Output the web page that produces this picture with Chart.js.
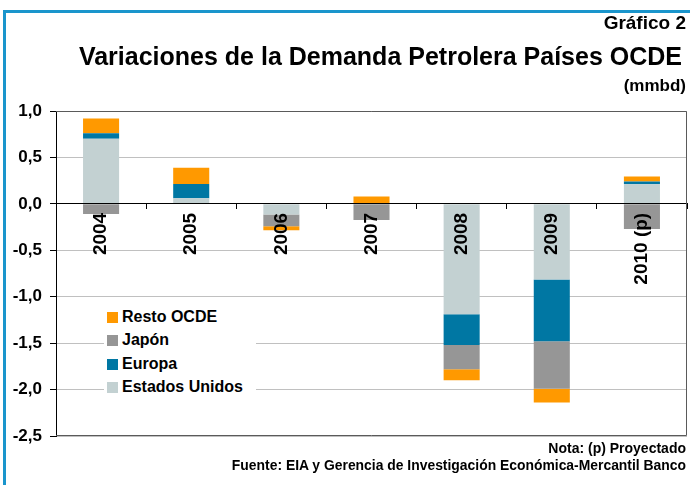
<!DOCTYPE html>
<html>
<head>
<meta charset="utf-8">
<script src="https://cdn.jsdelivr.net/npm/chart.js@4/dist/chart.umd.min.js"></script>
<style>
  html, body { margin: 0; padding: 0; background: #fff; }
  #wrap { position: relative; width: 690px; height: 485px; overflow: hidden; font-family: "Liberation Sans", Arial, sans-serif; font-weight: bold; color: #000; }
  #frameTop { position: absolute; left: 3px; top: 10px; width: 687px; height: 3px; background: #1a95cc; }
  #frameLeft { position: absolute; left: 3px; top: 10px; width: 3px; height: 475px; background: #1a95cc; }
  canvas { position: absolute; left: 0; top: 0; }
  .t { position: absolute; white-space: nowrap; }
  #legend { position: absolute; left: 104px; top: 305px; width: 152px; height: 94px; background: #fff; }
  .li { position: absolute; left: 3px; height: 20px; line-height: 20px; font-size: 16px; white-space: nowrap; }
  .sw { display: inline-block; width: 11px; height: 11px; margin-right: 4px; vertical-align: -1px; }
</style>
</head>
<body>
<div id="wrap">
  <canvas id="c" width="690" height="485"></canvas>
  <div id="frameTop"></div>
  <div id="frameLeft"></div>
  <div class="t" style="right:4px; top:12px; font-size:19px;">Gráfico 2</div>
  <div class="t" style="right:8px; top:42px; font-size:25px;">Variaciones de la Demanda Petrolera Países OCDE</div>
  <div class="t" style="right:4px; top:76px; font-size:17px;">(mmbd)</div>
  <div class="t" style="right:4px; top:440px; font-size:14px;">Nota: (p) Proyectado</div>
  <div class="t" style="right:4px; top:457px; font-size:13.9px;">Fuente: EIA y Gerencia de Investigación Económica-Mercantil Banco</div>
  <div id="legend"></div>
</div>
<script>
const categories = ["2004", "2005", "2006", "2007", "2008", "2009", "2010 (p)"];
const seriesNames = ["Estados Unidos", "Europa", "Japón", "Resto OCDE"];
const estadosUnidos = [0.70, 0.06, -0.115, 0, -1.19, -0.815, 0.21];
const europa = [0.06, 0.155, 0, 0, -0.33, -0.665, 0.03];
const japon = [-0.11, 0, -0.125, -0.175, -0.26, -0.51, -0.27];
const restoOCDE = [0.16, 0.175, -0.045, 0.08, -0.12, -0.15, 0.055];
const seriesColors = ["#c3d1d2", "#0077a3", "#969696", "#ff9900"];
const yTicks = [1.0, 0.5, 0.0, -0.5, -1.0, -1.5, -2.0, -2.5];

const seriesValues = [estadosUnidos, europa, japon, restoOCDE];
const FONT = "'Liberation Sans', Arial, sans-serif";

// HTML legend (reverse order)
const legend = document.getElementById('legend');
[3, 2, 1, 0].forEach((i, row) => {
  const d = document.createElement('div');
  d.className = 'li';
  d.style.top = (2 + row * 23.3) + 'px';
  d.innerHTML = '<span class="sw" style="background:' + seriesColors[i] + '"></span>' + seriesNames[i];
  legend.appendChild(d);
});

const frameBorder = {
  id: 'frameBorder',
  afterDraw(chart) {
    const a = chart.chartArea, ctx = chart.ctx;
    ctx.save();
    ctx.strokeStyle = '#5a5a5a';
    ctx.lineWidth = 1;
    ctx.beginPath();
    ctx.moveTo(a.left, a.top + 0.5); ctx.lineTo(a.right - 0.5, a.top + 0.5);
    ctx.lineTo(a.right - 0.5, a.bottom - 0.5); ctx.lineTo(a.left, a.bottom - 0.5);
    ctx.stroke();
    ctx.restore();
  }
};

new Chart(document.getElementById('c'), {
  type: 'bar',
  data: {
    labels: categories,
    datasets: seriesValues.map((v, i) => ({
      label: seriesNames[i],
      data: v,
      backgroundColor: seriesColors[i],
      borderWidth: 0,
      barPercentage: 0.4,
      categoryPercentage: 1.0
    }))
  },
  options: {
    responsive: false,
    animation: false,
    layout: { padding: { left: 0, right: 3, top: 111, bottom: 49 } },
    plugins: { legend: { display: false }, tooltip: { enabled: false } },
    scales: {
      x: {
        stacked: true,
        position: { y: 0 },
        grid: { drawOnChartArea: false, drawTicks: true, tickLength: 5, tickColor: '#000', offset: true, z: 1 },
        border: { display: true, color: '#000', width: 1, z: 1 },
        ticks: { z: 1, minRotation: 90, maxRotation: 90, padding: 4, color: '#000', font: { family: FONT, size: 19, weight: 'bold' }, autoSkip: false }
      },
      y: {
        stacked: true,
        min: -2.5, max: 1.0,
        afterBuildTicks(scale) { scale.ticks = yTicks.map(v => ({ value: v })); },
        afterFit(scale) { scale.width = 56; },
        grid: { color: '#c0c0c0', borderDash: [8, 6], tickLength: 6, tickColor: '#000', tickBorderDash: [] },
        border: { display: true, color: '#000', width: 1 },
        ticks: {
          padding: 8, color: '#000',
          font: { family: FONT, size: 17, weight: 'bold' },
          callback: (v) => v.toFixed(1).replace('.', ',')
        }
      }
    }
  },
  plugins: [frameBorder]
});
</script>
</body>
</html>
